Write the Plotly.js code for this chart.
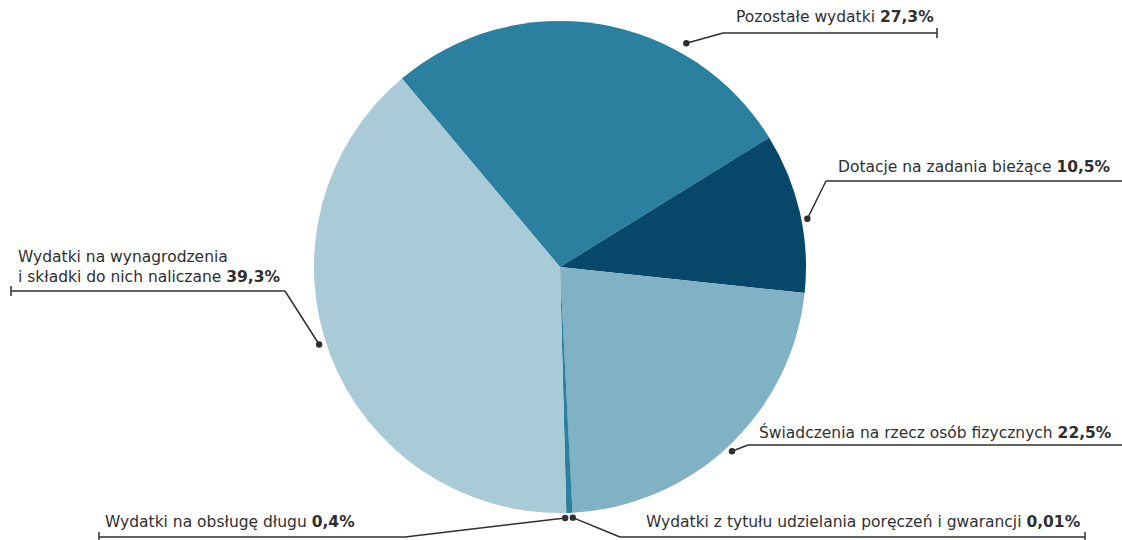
<!DOCTYPE html>
<html>
<head>
<meta charset="utf-8">
<script src="https://cdn.plot.ly/plotly-3.0.1.min.js"></script>
<style>html,body{margin:0;padding:0;background:#fff;}#chart{width:1122px;height:540px;}</style>
</head>
<body>
<div id="chart"></div>
<script>
// ---- data ----
const labels = [
  "Pozostałe wydatki",
  "Dotacje na zadania bieżące",
  "Świadczenia na rzecz osób fizycznych",
  "Wydatki z tytułu udzielania poręczeń i gwarancji",
  "Wydatki na obsługę długu",
  "Wydatki na wynagrodzenia<br>i składki do nich naliczane"
];
const values = [27.3, 10.5, 22.5, 0.01, 0.4, 39.3];
const valueLabels = ["27,3%", "10,5%", "22,5%", "0,01%", "0,4%", "39,3%"];
const colors = ["#2a809e", "#06476a", "#80b1c4", "#06476a", "#2a809e", "#a9cad7"];

// ---- layout config ----
const W = 1122, H = 540;
const CX = 560, CY = 267, R = 246;
const ROT = -40;
const ink = "#2f2f2f";
const fontFam = "'DejaVu Sans', 'Open Sans', sans-serif";
const fontSize = 15.5;

// per-label leader geometry (pixels): angle adjust, dot radius, elbow, end, text anchor
const leader = [
  {dA: 20.3, dr: 257, ex: 723, ey: 33, endX: 937, tick: true, tx: 936, ty: 17, xa: "right"},
  {dA: 1.8, dr: 252, ex: 826, ey: 181, endX: 1122, tick: false, tx: 836, ty: 167, xa: "left"},
  {dA: 0.4, dr: 252, ex: 748, ey: 445, endX: 1122, tick: false, tx: 757, ty: 432, xa: "left"},
  {dA: 0, dr: 251, ex: 620, ey: 537, endX: 1085, tick: true, tx: 1083, ty: 522, xa: "right"},
  {dA: 1.0, dr: 251, ex: 405, ey: 537, endX: 99, tick: true, tx: 103, ty: 522, xa: "left"},
  {dA: 2.9, dr: 253, ex: 285, ey: 291, endX: 11, tick: true, tx: 16, ty: 267, xa: "left"}
];

const px = x => x / W;
const py = y => 1 - y / H;

const total = values.reduce((a, b) => a + b, 0);
let acc = ROT;
const shapes = [], annotations = [];
values.forEach((v, i) => {
  const span = v / total * 360;
  const mid = acc + span / 2;
  acc += span;
  const L = leader[i];
  const a = (mid + L.dA) * Math.PI / 180;
  const dx = CX + L.dr * Math.sin(a);
  const dy = CY - L.dr * Math.cos(a);
  shapes.push({type: "circle", xref: "paper", yref: "paper",
    x0: px(dx - 3.2), x1: px(dx + 3.2), y0: py(dy + 3.2), y1: py(dy - 3.2),
    fillcolor: ink, line: {width: 0}});
  shapes.push({type: "line", xref: "paper", yref: "paper",
    x0: px(dx), y0: py(dy), x1: px(L.ex), y1: py(L.ey), line: {color: ink, width: 1.5}});
  shapes.push({type: "line", xref: "paper", yref: "paper",
    x0: px(L.ex), y0: py(L.ey), x1: px(L.endX), y1: py(L.ey), line: {color: ink, width: 1.5}});
  if (L.tick) {
    shapes.push({type: "line", xref: "paper", yref: "paper",
      x0: px(L.endX), y0: py(L.ey - 5), x1: px(L.endX), y1: py(L.ey + 5), line: {color: ink, width: 1.5}});
  }
  annotations.push({xref: "paper", yref: "paper", x: px(L.tx), y: py(L.ty),
    xanchor: L.xa, yanchor: "middle", align: "left", showarrow: false,
    text: labels[i] + " <b>" + valueLabels[i] + "</b>",
    font: {family: fontFam, size: fontSize, color: ink}});
});

const trace = {
  type: "pie",
  labels: labels,
  values: values,
  marker: {colors: colors, line: {width: 0}},
  sort: false,
  direction: "clockwise",
  rotation: ROT,
  textinfo: "none",
  hoverinfo: "label+percent",
  showlegend: false,
  domain: {x: [(CX - R) / W, (CX + R) / W], y: [1 - (CY + R) / H, 1 - (CY - R) / H]}
};

Plotly.newPlot("chart", [trace], {
  width: W, height: H,
  margin: {l: 0, r: 0, t: 0, b: 0},
  paper_bgcolor: "#fff",
  showlegend: false,
  shapes: shapes,
  annotations: annotations
}, {displayModeBar: false, staticPlot: true});
</script>
</body>
</html>
